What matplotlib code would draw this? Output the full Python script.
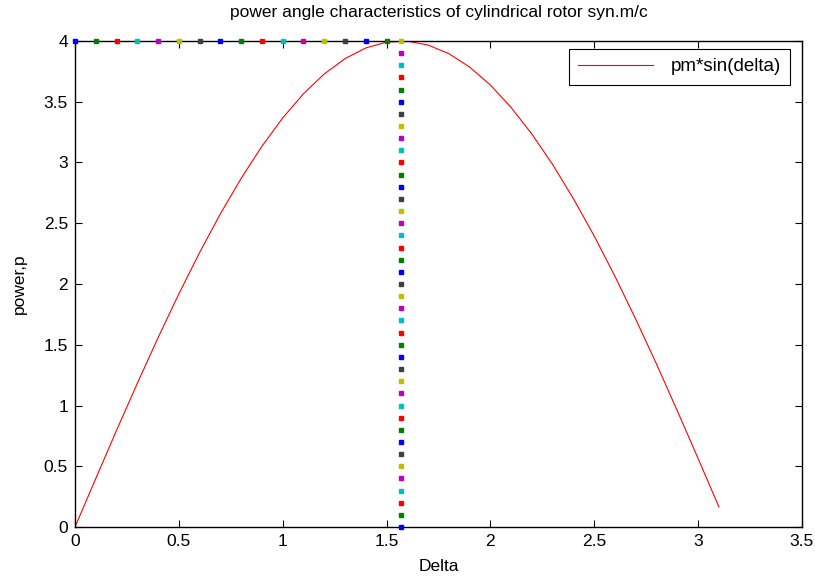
import matplotlib
matplotlib.use("Agg")
import matplotlib.pyplot as plt

plt.rcParams['font.family'] = ['Liberation Sans', 'DejaVu Sans']

# red curve: delta and pm*sin(delta) values
delta = [0.0, 0.1, 0.2, 0.3, 0.4, 0.5, 0.6, 0.7, 0.8, 0.9, 1.0, 1.1, 1.2, 1.3,
         1.4, 1.5, 1.6, 1.7, 1.8, 1.9, 2.0, 2.1, 2.2, 2.3, 2.4, 2.5, 2.6, 2.7,
         2.8, 2.9, 3.0, 3.1]
power = [0.0, 0.399, 0.795, 1.182, 1.558, 1.918, 2.259, 2.577, 2.869, 3.133,
         3.366, 3.565, 3.728, 3.854, 3.942, 3.990, 3.998, 3.966, 3.895, 3.785,
         3.637, 3.452, 3.233, 2.982, 2.701, 2.394, 2.062, 1.709, 1.340, 0.956,
         0.564, 0.166]

# dots along the top (y = 4)
top_x = [0.0, 0.1, 0.2, 0.3, 0.4, 0.5, 0.6, 0.7, 0.8, 0.9, 1.0, 1.1, 1.2,
         1.3, 1.4, 1.5]
top_y = 4.0

# vertical dots at delta = pi/2
vert_x = 1.5708
vert_y = [0.0, 0.1, 0.2, 0.3, 0.4, 0.5, 0.6, 0.7, 0.8, 0.9, 1.0, 1.1, 1.2,
          1.3, 1.4, 1.5, 1.6, 1.7, 1.8, 1.9, 2.0, 2.1, 2.2, 2.3, 2.4, 2.5,
          2.6, 2.7, 2.8, 2.9, 3.0, 3.1, 3.2, 3.3, 3.4, 3.5, 3.6, 3.7, 3.8,
          3.9, 4.0]

cycle = [(0, 0, 1), (0, 0.5, 0), (1, 0, 0), (0, 0.75, 0.75),
         (0.75, 0, 0.75), (0.75, 0.75, 0), (0.25, 0.25, 0.25)]

xticks = [0, 0.5, 1, 1.5, 2, 2.5, 3, 3.5]
xticklabels = ['0', '0.5', '1', '1.5', '2', '2.5', '3', '3.5']
yticks = [0, 0.5, 1, 1.5, 2, 2.5, 3, 3.5, 4]
yticklabels = ['0', '0.5', '1', '1.5', '2', '2.5', '3', '3.5', '4']

FS = 12.5

fig = plt.figure(figsize=(8.15, 5.76), dpi=100)
ax = fig.add_axes([0.092, 0.085, 0.892, 0.844])

line, = ax.plot(delta, power, color='red', linewidth=0.8, label='pm*sin(delta)')

for i, x in enumerate(top_x):
    ax.plot([x], [top_y], linestyle='none', marker='s', markersize=2.8,
            color=cycle[i % 7], clip_on=False, zorder=3)
for i, y in enumerate(vert_y):
    ax.plot([vert_x], [y], linestyle='none', marker='s', markersize=2.8,
            color=cycle[i % 7], clip_on=False, zorder=3)

ax.set_xlim(0, 3.5)
ax.set_ylim(0, 4)
ax.set_xticks(xticks)
ax.set_xticklabels(xticklabels)
ax.set_yticks(yticks)
ax.set_yticklabels(yticklabels)
ax.tick_params(direction='in', length=5, width=0.8, top=True, right=True,
               labelsize=FS, pad=5)
for s in ax.spines.values():
    s.set_linewidth(1.0)

ax.set_title('power angle characteristics of cylindrical rotor syn.m/c',
             fontsize=FS, pad=17)
ax.set_xlabel('Delta', fontsize=FS, labelpad=7)
ax.set_ylabel('power,p', fontsize=FS, labelpad=12)

leg = ax.legend(handles=[line], loc='upper right', fontsize=13.5,
                fancybox=False, framealpha=1, edgecolor='black',
                handlelength=4.0, borderpad=0.5, handletextpad=0.9,
                borderaxespad=0, bbox_to_anchor=(0.9835, 0.9835))
leg.get_frame().set_linewidth(0.8)

fig.savefig('out.png', dpi=100)
